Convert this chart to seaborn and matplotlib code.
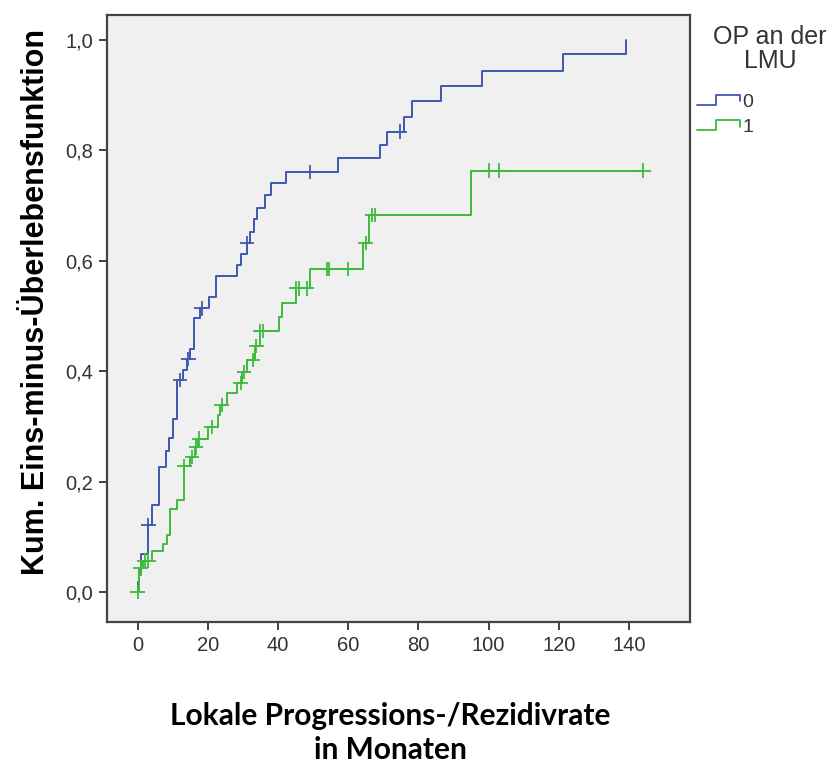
import numpy as np
import pandas as pd
import matplotlib
matplotlib.use('Agg')
import matplotlib.pyplot as plt
import seaborn as sns
from matplotlib.lines import Line2D
from matplotlib.legend_handler import HandlerBase
from matplotlib.ticker import FuncFormatter

# Gruppen: OP an der LMU (0 / 1)
gruppen = ['0', '1']
farben = ['#3f58b0', '#3dbb3d']

# Gruppe 0: Ereigniszeiten (Monate) und kumulative Eins-minus-Überlebensfunktion
zeit_0 = [0, 0.2, 0.5, 0.9, 2.8, 4.0, 6.1, 8.1, 9.0, 10.1, 11.1, 13.0, 14.1, 14.9,
          16.1, 17.8, 20.3, 22.3, 28.2, 29.4, 31.1, 32.0, 33.2, 34.1, 36.3, 37.9,
          42.3, 57.2, 69.1, 71.1, 76.0, 78.1, 86.3, 98.1, 121.1, 139.1]
kum_0 = [0, 0.018, 0.035, 0.070, 0.121, 0.157, 0.226, 0.255, 0.280, 0.314, 0.384,
         0.403, 0.422, 0.440, 0.496, 0.514, 0.535, 0.573, 0.592, 0.612, 0.632,
         0.653, 0.675, 0.696, 0.719, 0.740, 0.761, 0.786, 0.810, 0.834, 0.861,
         0.889, 0.917, 0.944, 0.974, 1.0]
zensiert_0 = [3.0, 12.1, 14.4, 18.2, 31.1, 49.1, 74.8]

# Gruppe 1
zeit_1 = [0, 0.5, 1.5, 4.0, 7.3, 8.3, 9.2, 11.1, 13.3, 14.9, 16.3, 17.3, 20.1, 23.0,
          23.5, 25.4, 28.2, 29.6, 31.1, 33.4, 34.9, 40.2, 41.2, 45.0, 49.1, 64.1,
          66.0, 95.0, 144.1]
kum_1 = [0, 0.043, 0.057, 0.074, 0.088, 0.103, 0.150, 0.167, 0.228, 0.245, 0.262,
         0.278, 0.299, 0.321, 0.339, 0.360, 0.379, 0.399, 0.420, 0.446, 0.473,
         0.498, 0.524, 0.550, 0.585, 0.632, 0.683, 0.763, 0.763]
zensiert_1 = [0.0, 0.8, 2.0, 3.0, 13.3, 15.5, 16.6, 17.6, 21.1, 23.9, 29.3, 30.3,
              32.9, 33.8, 34.9, 35.6, 45.2, 46.0, 48.2, 54.0, 54.6, 60.0, 65.0,
              66.8, 67.7, 100.1, 103.1, 144.1]

x_ticks = [0, 20, 40, 60, 80, 100, 120, 140]
y_ticks = [0.0, 0.2, 0.4, 0.6, 0.8, 1.0]


def stufenwert(zeiten, werte, t):
    idx = np.searchsorted(np.array(zeiten), t, side='right') - 1
    return np.array(werte)[idx]


kurven = pd.concat([
    pd.DataFrame({'zeit': zeit_0, 'kum': kum_0, 'gruppe': '0'}),
    pd.DataFrame({'zeit': zeit_1, 'kum': kum_1, 'gruppe': '1'}),
])
zensur = pd.concat([
    pd.DataFrame({'zeit': zensiert_0, 'kum': stufenwert(zeit_0, kum_0, zensiert_0), 'gruppe': '0'}),
    pd.DataFrame({'zeit': zensiert_1, 'kum': stufenwert(zeit_1, kum_1, zensiert_1), 'gruppe': '1'}),
])

sns.set_style('white')
plt.rcParams['font.family'] = ['Liberation Sans', 'DejaVu Sans']

fig = plt.figure(figsize=(8.33, 7.67), dpi=100)
ax = fig.add_axes([107 / 833, 1 - 622 / 767, (690 - 107) / 833, (622 - 15) / 767])
ax.set_facecolor('#f0f0f0')

palette = dict(zip(gruppen, farben))
sns.lineplot(data=kurven, x='zeit', y='kum', hue='gruppe', palette=palette,
             drawstyle='steps-post', estimator=None, sort=False, linewidth=1.4,
             legend=False, ax=ax)
sns.scatterplot(data=zensur, x='zeit', y='kum', hue='gruppe', palette=palette,
                marker='+', s=110, linewidth=1.3, legend=False, ax=ax, zorder=3)

ax.set_xlim(-8.75, 157.4)
ax.set_ylim(-0.054, 1.045)
ax.set_xticks(x_ticks)
ax.set_yticks(y_ticks)
ax.yaxis.set_major_formatter(FuncFormatter(lambda v, p: f'{v:.1f}'.replace('.', ',')))
ax.set_xlabel('')
ax.set_ylabel('')
ax.tick_params(axis='both', direction='out', length=6, width=1.3, colors='#333333',
               labelsize=14.5, pad=4, bottom=True, left=True)
for side in ['top', 'right', 'bottom', 'left']:
    ax.spines[side].set_color('#444444')
    ax.spines[side].set_linewidth(1.6)

fig.text(36 / 833, 1 - 302 / 767, 'Kum. Eins-minus-Überlebensfunktion', rotation=90,
         ha='center', va='center', fontsize=22, fontweight='bold', color='black')
fig.text(390 / 833, 1 - 733 / 767, 'Lokale Progressions-/Rezidivrate\nin Monaten',
         ha='center', va='center', fontsize=21.5, fontweight='bold', color='black',
         family=['Lato', 'DejaVu Sans'], linespacing=1.3)

# Legende
fig.text(770 / 833, 1 - 49 / 767, 'OP an der\nLMU', ha='center', va='center',
         multialignment='center', fontsize=18, color='#333333', linespacing=1.05)


class StufenHandler(HandlerBase):
    def create_artists(self, legend, orig_handle, xdescent, ydescent, width, height,
                       fontsize, trans):
        x0 = -xdescent
        y0 = -ydescent
        xs = [x0, x0 + 0.45 * width, x0 + 0.45 * width, x0 + width, x0 + width]
        ys = [y0 + 0.15 * height, y0 + 0.15 * height, y0 + 0.85 * height,
              y0 + 0.85 * height, y0 + 0.4 * height]
        linie = Line2D(xs, ys, color=orig_handle.get_color(), linewidth=1.3)
        linie.set_transform(trans)
        return [linie]


handles = [Line2D([], [], color=f) for f in farben]
fig.legend(handles, gruppen, loc='upper left', bbox_to_anchor=(697 / 833, 1 - 93 / 767),
           frameon=False, fontsize=14, handlelength=2.2, handletextpad=0.15,
           labelspacing=0.4, borderpad=0, borderaxespad=0,
           handler_map={Line2D: StufenHandler()}, labelcolor='#333333')

fig.savefig('out.png', dpi=100, facecolor='white')
